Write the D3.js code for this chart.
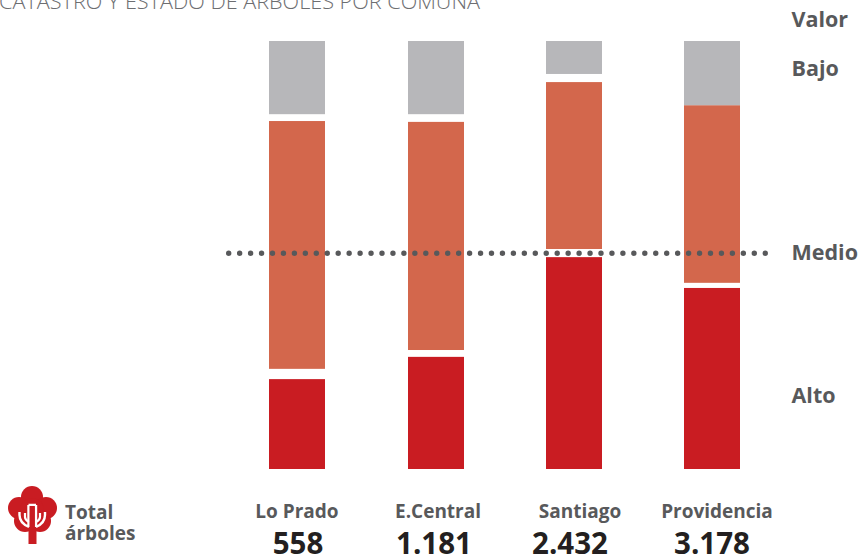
<!DOCTYPE html>
<html><head><meta charset="utf-8">
<script src="https://cdn.jsdelivr.net/npm/d3@7"></script>
<style>html,body{margin:0;padding:0;background:#fff;overflow:hidden}svg{display:block}text{font-family:"Open Sans",sans-serif}</style>
</head><body><svg id="c" width="858" height="558"></svg>
<script>
const comunas = ["Lo Prado","E.Central","Santiago","Providencia"];
const totales = ["558","1.181","2.432","3.178"];
const altoTop = [21.0,26.2,49.5,42.3];
const medioBase = [23.4,27.8,51.4,43.5];
const medioTop = [81.3,81.1,90.4,85.0];
const bajoBase = [82.9,82.9,92.3,85.0];
const escala = ["Valor","Bajo","Medio","Alto"];
const promedio = 50.4;

const svg = d3.select("#c");
const y = d3.scaleLinear().domain([0,100]).range([469,41]);
const xBar = d3.scalePoint().domain(comunas).range([269,684]);
const bw = 56;
const gris="#58595b";
const rojo="#c91c22";

const rows = comunas.map((c,i)=>({c,i}));
const segs = [
  {col:rojo, lo:()=>0, hi:d=>altoTop[d.i]},
  {col:"#d3674c", lo:d=>medioBase[d.i], hi:d=>medioTop[d.i]},
  {col:"#b7b7ba", lo:d=>bajoBase[d.i], hi:()=>100}
];
segs.forEach(s=>{
  svg.append("g").selectAll("rect").data(rows).join("rect")
    .attr("x",d=>Math.ceil(xBar(d.c))).attr("width",bw)
    .attr("y",d=>y(s.hi(d))).attr("height",d=>y(s.lo(d))-y(s.hi(d)))
    .attr("fill",s.col);
});

svg.append("line").attr("x1",228.7).attr("x2",765.5)
  .attr("y1",y(promedio)).attr("y2",y(promedio))
  .attr("stroke",gris).attr("stroke-width",5.4).attr("stroke-linecap","round")
  .attr("stroke-dasharray","0 10.95");

svg.append("text").attr("x",-1).attr("y",9).attr("fill","#6d6e71")
  .attr("font-size",21).attr("font-weight",300).attr("textLength",481).attr("lengthAdjust","spacingAndGlyphs")
  .text("CATASTRO Y ESTADO DE ÁRBOLES POR COMUNA");

const escY = [27,76,260,403];
svg.append("g").selectAll("text").data(escala).join("text")
  .attr("x",791.5).attr("y",(d,i)=>escY[i]).attr("fill",gris)
  .attr("font-size",21.5).attr("font-weight",700).text(d=>d);

const labelX=[297,438,580,717], valX=[298,434,570,712];
svg.append("g").selectAll("text").data(comunas).join("text")
  .attr("x",(d,i)=>labelX[i]).attr("y",518).attr("text-anchor","middle")
  .attr("fill",gris).attr("font-size",19).attr("font-weight",700).text(d=>d);
svg.append("g").selectAll("text").data(totales).join("text")
  .attr("x",(d,i)=>valX[i]).attr("y",554).attr("text-anchor","middle")
  .attr("fill","#231f20").attr("font-size",29.5).attr("font-weight",700).text(d=>d);

svg.append("text").attr("x",65).attr("y",519).attr("fill",gris).attr("font-size",19).attr("font-weight",700).text("Total");
svg.append("text").attr("x",65).attr("y",540).attr("fill",gris).attr("font-size",19).attr("font-weight",700).text("árboles");

const tree = svg.append("g");
[[32,497,11],[19,508,11],[46,508,11],[25,521,11],[40,521,11],[32,510,12]].forEach(c=>
  tree.append("circle").attr("cx",c[0]).attr("cy",c[1]).attr("r",c[2]).attr("fill",rojo));
tree.append("path").attr("fill","none").attr("stroke","#fff").attr("stroke-width",2.4)
  .attr("d","M19.5 512V515Q19.5 523 29 527M45 512V515Q45 523 36 527M28.5 527V505M36 527V505M28.5 505H36");
tree.append("path").attr("fill","none").attr("stroke","#fff").attr("stroke-width",2.2)
  .attr("d","M25 513V517Q25 520 29 522M40 513V517Q40 520 36 522");
tree.append("rect").attr("x",29.7).attr("y",506).attr("width",5).attr("height",22).attr("fill",rojo);
tree.append("rect").attr("x",28.5).attr("y",528).attr("width",8).attr("height",16).attr("fill",rojo);
</script></body></html>
